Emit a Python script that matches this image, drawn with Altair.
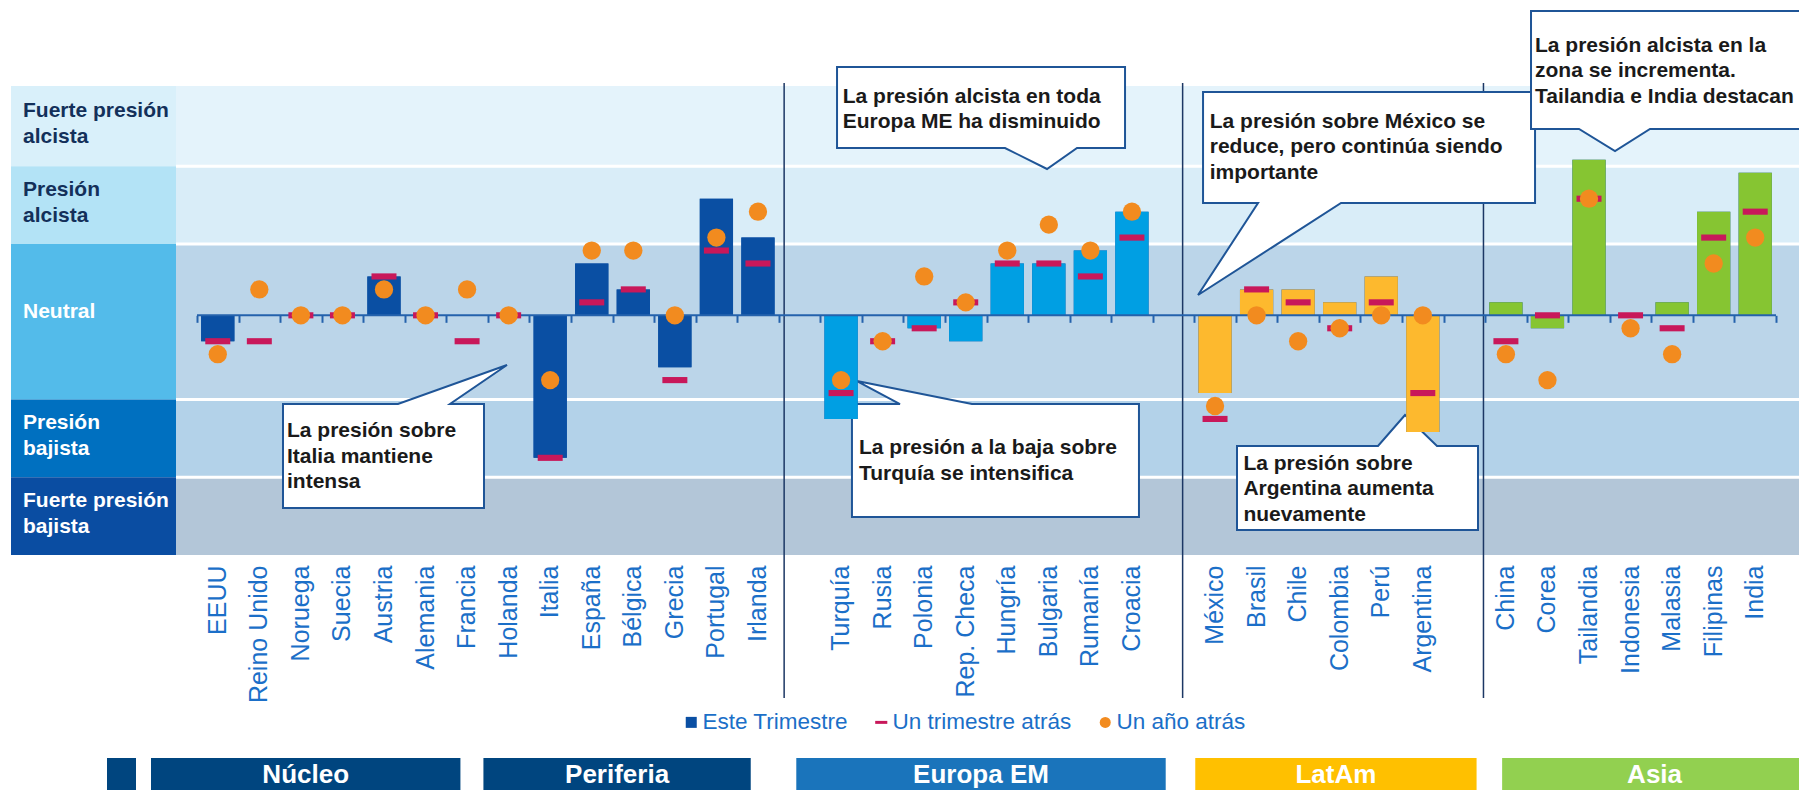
import altair as alt
import pandas as pd

# ---------------- data ----------------
countries = ["EEUU", "Reino Unido", "Noruega", "Suecia", "Austria", "Alemania",
             "Francia", "Holanda", "Italia", "España", "Bélgica", "Grecia",
             "Portugal", "Irlanda", "Turquía", "Rusia", "Polonia", "Rep. Checa",
             "Hungría", "Bulgaria", "Rumanía", "Croacia", "México", "Brasil",
             "Chile", "Colombia", "Perú", "Argentina", "China", "Corea",
             "Tailandia", "Indonesia", "Malasia", "Filipinas", "India"]
group_names = ["Núcleo", "Periferia", "Europa EM", "LatAm", "Asia"]
group_sizes = [8, 6, 8, 6, 7]

este_trimestre = [-2, 0, 0, 0, 3, 0, 0, 0, -11, 4, 2, -4, 9, 6,
                  -8, 0, -1, -2, 4, 4, 5, 8,
                  -6, 2, 2, 1, 3, -9,
                  1, -1, 12, 0, 1, 8, 11]
un_trimestre_atras = [-2, -2, 0, 0, 3, 0, -2, 0, -11, 1, 2, -5, 5, 4,
                      -6, -2, -1, 1, 4, 4, 3, 6,
                      -8, 2, 1, -1, 1, -6,
                      -2, 0, 9, 0, -1, 6, 8]
un_anio_atras = [-3, 2, 0, 0, 2, 0, 2, 0, -5, 5, 5, 0, 6, 8,
                 -5, -2, 3, 1, 5, 7, 5, 8,
                 -7, 0, -2, -1, 0, 0,
                 -3, -5, 9, -1, -3, 4, 6]
series_names = ["Este Trimestre", "Un trimestre atrás", "Un año atrás"]

band_names = ["Fuerte presión alcista", "Presión alcista", "Neutral",
              "Presión bajista", "Fuerte presión bajista"]
band_labels = ["Fuerte presión\nalcista", "Presión\nalcista", "Neutral",
               "Presión\nbajista", "Fuerte presión\nbajista"]
band_lo = [11.5, 5.5, -6.5, -12.5, -18.5]
band_hi = [17.7, 11.5, 5.5, -6.5, -12.5]

callout_countries = ["Bulgaria", "Italia", "Turquía", "México", "Tailandia", "Argentina"]
callout_texts = [
    "La presión alcista en toda\nEuropa ME ha disminuido",
    "La presión sobre\nItalia mantiene\nintensa",
    "La presión a la baja sobre\nTurquía se intensifica",
    "La presión sobre México se\nreduce, pero continúa siendo\nimportante",
    "La presión alcista en la\nzona se incrementa.\nTailandia e India destacan",
    "La presión sobre\nArgentina aumenta\nnuevamente",
]

# ---------------- derived tables ----------------
regions, x_domain, gap_names = [], [], []
firsts, lasts, anchors = [], [], []
start = 0
for gi, (g, n) in enumerate(zip(group_names, group_sizes)):
    if gi >= 2:
        gap = f"_g{gi - 1}"
        gap_names.append(gap)
        x_domain.append(gap)
    block = countries[start:start + n]
    x_domain += block
    regions += [g] * n
    firsts.append(block[0])
    lasts.append(block[-1])
    anchors.append(block[(n - 1) // 2])
    start += n

df = pd.DataFrame({"country": countries, "region": regions, "este": este_trimestre,
                   "trim": un_trimestre_atras, "anio": un_anio_atras})
bands_df = pd.DataFrame({"band": band_names, "label": band_labels, "lo": band_lo, "hi": band_hi})
strip_df = pd.DataFrame({"group": group_names, "first": firsts, "last": lasts,
                         "anchor": anchors, "n": group_sizes})

# ---------------- style ----------------
W, H = 1579, 469
PAD_R = 23
Y_MIN, Y_MAX = band_lo[-1], band_hi[0]
FONT = "Liberation Sans"
AX = "#2462AC"
LBL = "#1B6FC8"
plot_band_colors = ["#E4F3FB", "#D9EDF8", "#BBD5E9", "#B3D2E9", "#B3C6D8"]
col_band_colors = ["#D9F0FA", "#B3E3F6", "#53BBEA", "#0070C0", "#0A4DA2"]
col_text_colors = ["#13305A", "#13305A", "#FFFFFF", "#FFFFFF", "#FFFFFF"]
bar_colors = ["#0A4FA3", "#0A4FA3", "#009FE3", "#FDB92E", "#86C532"]
strip_colors = ["#00457F", "#00457F", "#1A74BB", "#FFC000", "#92D050"]
strip_offsets = [(-46, -69), (-46, -28), (-24, 13), (1, 33), (17, 31)]
series_colors = ["#0A4FA3", "#C8185A", "#F28B1F"]
DASH = "M-1.1,-0.27H1.1V0.27H-1.1Z"

x_scale = alt.Scale(type="band", domain=x_domain, paddingInner=0, paddingOuter=0)
y_scale = alt.Scale(domain=[Y_MIN, Y_MAX], nice=False, zero=False)
color_scale = alt.Scale(domain=series_names, range=series_colors)
shape_scale = alt.Scale(domain=series_names, range=["square", DASH, "circle"])
legend = alt.Legend(title=None, orient="none", legendX=483, legendY=625,
                    direction="horizontal", labelFont=FONT, labelFontSize=22.5,
                    labelColor=LBL, labelLimit=0, symbolSize=121, symbolStrokeWidth=0,
                    symbolOpacity=1, columnPadding=22, labelOffset=0, padding=0)

layers = []

# background bands of the plot
layers.append(alt.Chart(bands_df).mark_rect().encode(
    x=alt.value(-21), x2=alt.value(W + PAD_R),
    y=alt.Y("lo:Q", scale=y_scale, axis=None), y2="hi:Q",
    fill=alt.Fill("band:N", scale=alt.Scale(domain=band_names, range=plot_band_colors), legend=None)))
layers.append(alt.Chart(bands_df).transform_filter(alt.datum.band != band_names[0]).mark_rule(
    color="white", strokeWidth=3).encode(
    x=alt.value(-21), x2=alt.value(W + PAD_R), y=alt.Y("hi:Q", scale=y_scale, axis=None)))

# left label column
layers.append(alt.Chart(bands_df).mark_rect().encode(
    x=alt.value(-186), x2=alt.value(-21),
    y=alt.Y("lo:Q", scale=y_scale, axis=None), y2="hi:Q",
    fill=alt.Fill("band:N", scale=alt.Scale(domain=band_names, range=col_band_colors), legend=None)))
for cond, ddy in [("indexof(datum.label, '\\n') >= 0", -15), ("indexof(datum.label, '\\n') < 0", -9.5)]:
    layers.append(alt.Chart(bands_df).transform_filter(cond).transform_calculate(
        mid="(datum.lo + datum.hi) / 2").mark_text(
        align="left", baseline="middle", font=FONT, fontSize=21, fontWeight="bold",
        lineBreak="\n", lineHeight=25.5, dy=ddy).encode(
        x=alt.value(-174), y=alt.Y("mid:Q", scale=y_scale, axis=None), text="label:N",
        fill=alt.Fill("band:N", scale=alt.Scale(domain=band_names, range=col_text_colors), legend=None)))

# vertical separators between regions
for gap, bp in zip(gap_names, [0.13, 0.72, 0.96]):
    layers.append(alt.Chart(pd.DataFrame({"slot": [gap]})).mark_rule(
        color="#1C3764", strokeWidth=1.5).encode(
        x=alt.X("slot:N", scale=x_scale, axis=None, bandPosition=bp),
        y=alt.value(-3), y2=alt.value(612)))

# callouts (shape offsets relative to the country's zero point)
callout_shapes = [
    [(-211.8, -248.3), (76.2, -248.3), (76.2, -167.3), (28.2, -167.3), (-1.8, -146.3), (-43.8, -167.3), (-211.8, -167.3)],
    [(-267.2, 88.7), (-152.2, 88.7), (-43.2, 49.7), (-100.2, 88.7), (-66.2, 88.7), (-66.2, 192.7), (-267.2, 192.7)],
    [(10.9, 88.7), (58.9, 88.7), (15.9, 65.7), (130.9, 88.7), (297.9, 88.7), (297.9, 201.7), (10.9, 201.7)],
    [(-12.0, -223.3), (320.0, -223.3), (320.0, -112.3), (126.0, -112.3), (-17.0, -20.3), (43.0, -112.3), (-12.0, -112.3)],
    [(-58.0, -304.3), (231.0, -304.3), (231.0, -186.3), (61.0, -186.3), (26.0, -164.3), (-10.0, -186.3), (-58.0, -186.3)],
    [(-185.8, 130.7), (-44.8, 130.7), (-17.8, 99.7), (14.2, 130.7), (55.2, 130.7), (55.2, 214.7), (-185.8, 214.7)],
]
callout_text_offsets = [(-206.1, -212.8), (-263.2, 121.9), (17.9, 138.9),
                        (-5.3, -187.4), (-54.0, -263.5), (-179.4, 154.2)]


def to_path(pts):
    return "M" + " L".join(f"{px:.1f},{py:.1f}" for px, py in pts) + " Z"


for c, txt, pts, (tdx, tdy) in zip(callout_countries, callout_texts, callout_shapes, callout_text_offsets):
    cdf = pd.DataFrame({"country": [c], "text": [txt], "zero": [0]})
    base = alt.Chart(cdf).encode(
        x=alt.X("country:N", scale=x_scale, axis=None),
        y=alt.Y("zero:Q", scale=y_scale, axis=None))
    layers.append(base.mark_point(shape=to_path(pts), size=4, filled=True, fill="white",
                                  stroke="#1F5597", strokeWidth=2, opacity=1))
    layers.append(base.mark_text(align="left", baseline="alphabetic", dx=tdx, dy=tdy,
                                 font=FONT, fontSize=21, fontWeight="bold", lineBreak="\n",
                                 lineHeight=25.5, color="#1A1A1A").encode(text="text:N"))

# bars: legend carrier (hidden under region bars) and region-coloured bars
layers.append(alt.Chart(df).transform_calculate(series="'Este Trimestre'").mark_bar(
    width={"band": 0.8}).encode(
    x=alt.X("country:N", scale=x_scale, axis=None),
    y=alt.Y("este:Q", scale=y_scale, axis=None), y2=alt.datum(0),
    color=alt.Color("series:N", scale=color_scale, legend=legend)))
layers.append(alt.Chart(df).mark_bar(width={"band": 0.8}).encode(
    x=alt.X("country:N", scale=x_scale,
            axis=alt.Axis(orient="bottom", labelAngle=-90, labelFont=FONT, labelFontSize=25,
                          labelColor=LBL, labelPadding=10, labelLimit=0, labelOverlap=False,
                          domain=False, ticks=False, grid=False, title=None,
                          labelExpr="indexof(datum.label, '_') == 0 ? '' : datum.label")),
    y=alt.Y("este:Q", scale=y_scale, axis=None), y2=alt.datum(0),
    fill=alt.Fill("region:N", scale=alt.Scale(domain=group_names, range=bar_colors), legend=None)))

# zero line
layers.append(alt.Chart(pd.DataFrame({"v": [0]})).mark_rule(color=AX, strokeWidth=2).encode(
    x=alt.value(0), x2=alt.value(W), y=alt.Y("v:Q", scale=y_scale, axis=None)))

# un trimestre atrás (dashes) carries the tick axis on the zero line
zero_offset = -(H * (0 - Y_MIN) / (Y_MAX - Y_MIN))
layers.append(alt.Chart(df).transform_calculate(series="'Un trimestre atrás'").mark_point(
    filled=True, size=516, opacity=1, strokeWidth=0).encode(
    x=alt.X("country:N", scale=x_scale,
            axis=alt.Axis(orient="bottom", offset=zero_offset, labels=False, domain=False,
                          ticks=True, tickBand="extent", tickSize=7, tickWidth=2,
                          tickColor=AX, grid=False, title=None, zindex=1)),
    y=alt.Y("trim:Q", scale=y_scale, axis=None),
    color=alt.Color("series:N", scale=color_scale, legend=legend),
    shape=alt.Shape("series:N", scale=shape_scale, legend=legend)))

# un año atrás (dots)
layers.append(alt.Chart(df).transform_calculate(series="'Un año atrás'").mark_point(
    filled=True, size=335, opacity=1, strokeWidth=0).encode(
    x=alt.X("country:N", scale=x_scale, axis=None),
    y=alt.Y("anio:Q", scale=y_scale, axis=None),
    color=alt.Color("series:N", scale=color_scale, legend=legend),
    shape=alt.Shape("series:N", scale=shape_scale, legend=legend)))

# bottom group strip
layers.append(alt.Chart(pd.DataFrame({"k": [0]})).mark_rect(color=strip_colors[0]).encode(
    x=alt.value(-90), x2=alt.value(-61), y=alt.value(672), y2=alt.value(704)))
for g, n, (xo, x2o) in zip(group_names, group_sizes, strip_offsets):
    gsel = alt.Chart(strip_df).transform_filter(alt.datum.group == g)
    layers.append(gsel.mark_rect(xOffset=xo, x2Offset=x2o).encode(
        x=alt.X("first:N", scale=x_scale, axis=None, bandPosition=0),
        x2=alt.X2("last", bandPosition=1),
        y=alt.value(672), y2=alt.value(704),
        fill=alt.Fill("group:N", scale=alt.Scale(domain=group_names, range=strip_colors), legend=None)))
    layers.append(gsel.mark_text(
        align="center", baseline="middle", font=FONT, fontSize=26, fontWeight="bold",
        color="white", dx=(xo + x2o) / 2).encode(
        x=alt.X("anchor:N", scale=x_scale, axis=None, bandPosition=1 if n % 2 == 0 else 0.5),
        y=alt.value(689), text="group:N"))

chart = alt.layer(*layers).resolve_scale(fill="independent").resolve_axis(x="independent").properties(
    width=W, height=H,
    autosize=alt.AutoSizeParams(type="none"),
    padding={"left": 189, "top": 78, "right": PAD_R, "bottom": 235},
).configure_view(strokeWidth=0)

chart.save("out.html", embed_options={"renderer": "svg", "actions": False})
